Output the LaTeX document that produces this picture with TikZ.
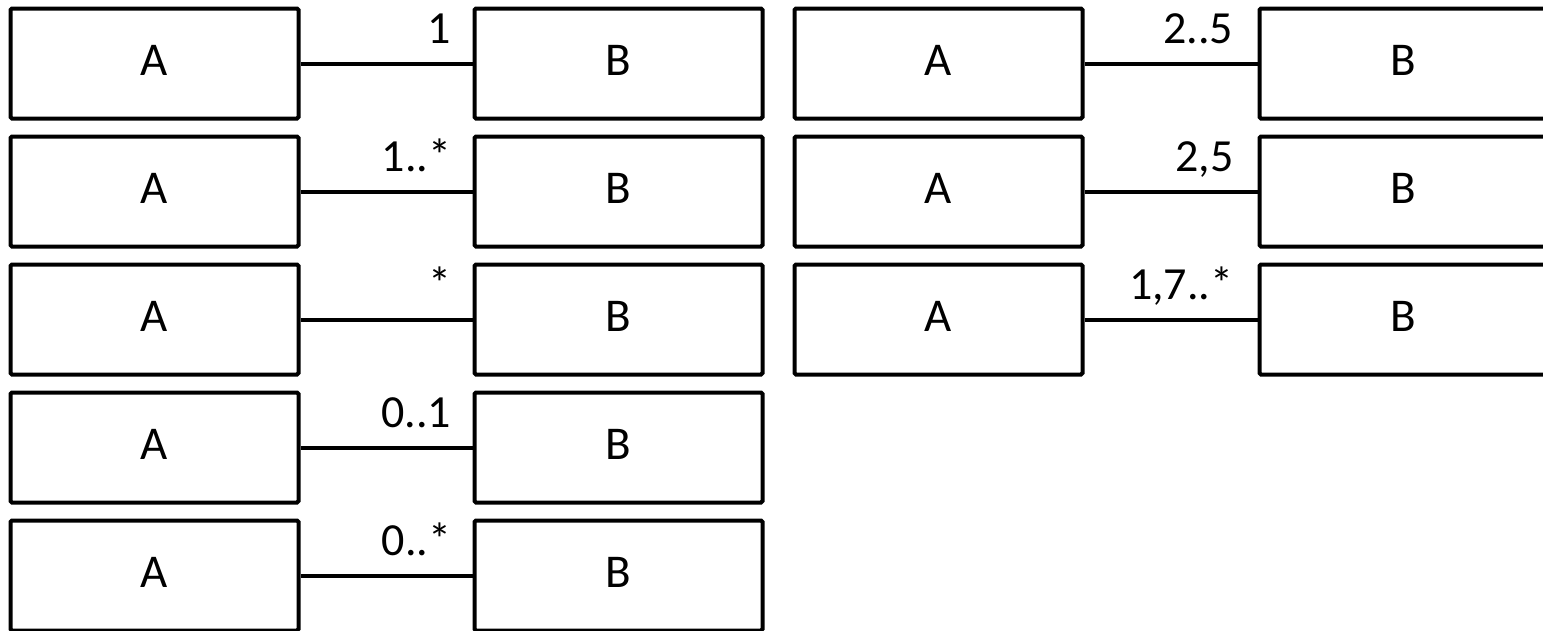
\documentclass[tikz,border=0pt]{standalone}
\usepackage{fontspec}
\setmainfont{Carlito}
\begin{document}
\begin{tikzpicture}[x=1pt,y=-1pt,
  cls/.style={draw, line width=4pt, rounded corners=1.5pt, minimum width=288pt,
    minimum height=110pt, inner sep=0pt, font=\fontsize{47}{50}\selectfont, text depth=6pt},
  assoc/.style={line width=4pt},
  mult/.style={anchor=base east, inner sep=0pt, font=\fontsize{46}{50}\selectfont}]
\useasboundingbox (0,0) rectangle (1543,630);
\foreach \m [count=\i] in {1, 1..*, *, 0..1, 0..*} {
  \node[cls] (a\i) at (154.5, {63.5+128*(\i-1)}) {A};
  \node[cls] (b\i) at (618.5, {63.5+128*(\i-1)}) {B};
  \draw[assoc] (a\i) -- (b\i);
  \node[mult] (m\i) at ([xshift=-21pt,yshift=20.5pt]b\i.west) {\m};
}
\foreach \m [count=\i] in {2..5, {2,5}, {1,7..*}} {
  \node[cls] (ra\i) at (938.5, {63.5+128*(\i-1)}) {A};
  \node[cls] (rb\i) at (1403.5, {63.5+128*(\i-1)}) {B};
  \draw[assoc] (ra\i) -- (rb\i);
  \node[mult] (rm\i) at ([xshift=-24pt,yshift=20.5pt]rb\i.west) {\m};
}
\end{tikzpicture}
\end{document}
